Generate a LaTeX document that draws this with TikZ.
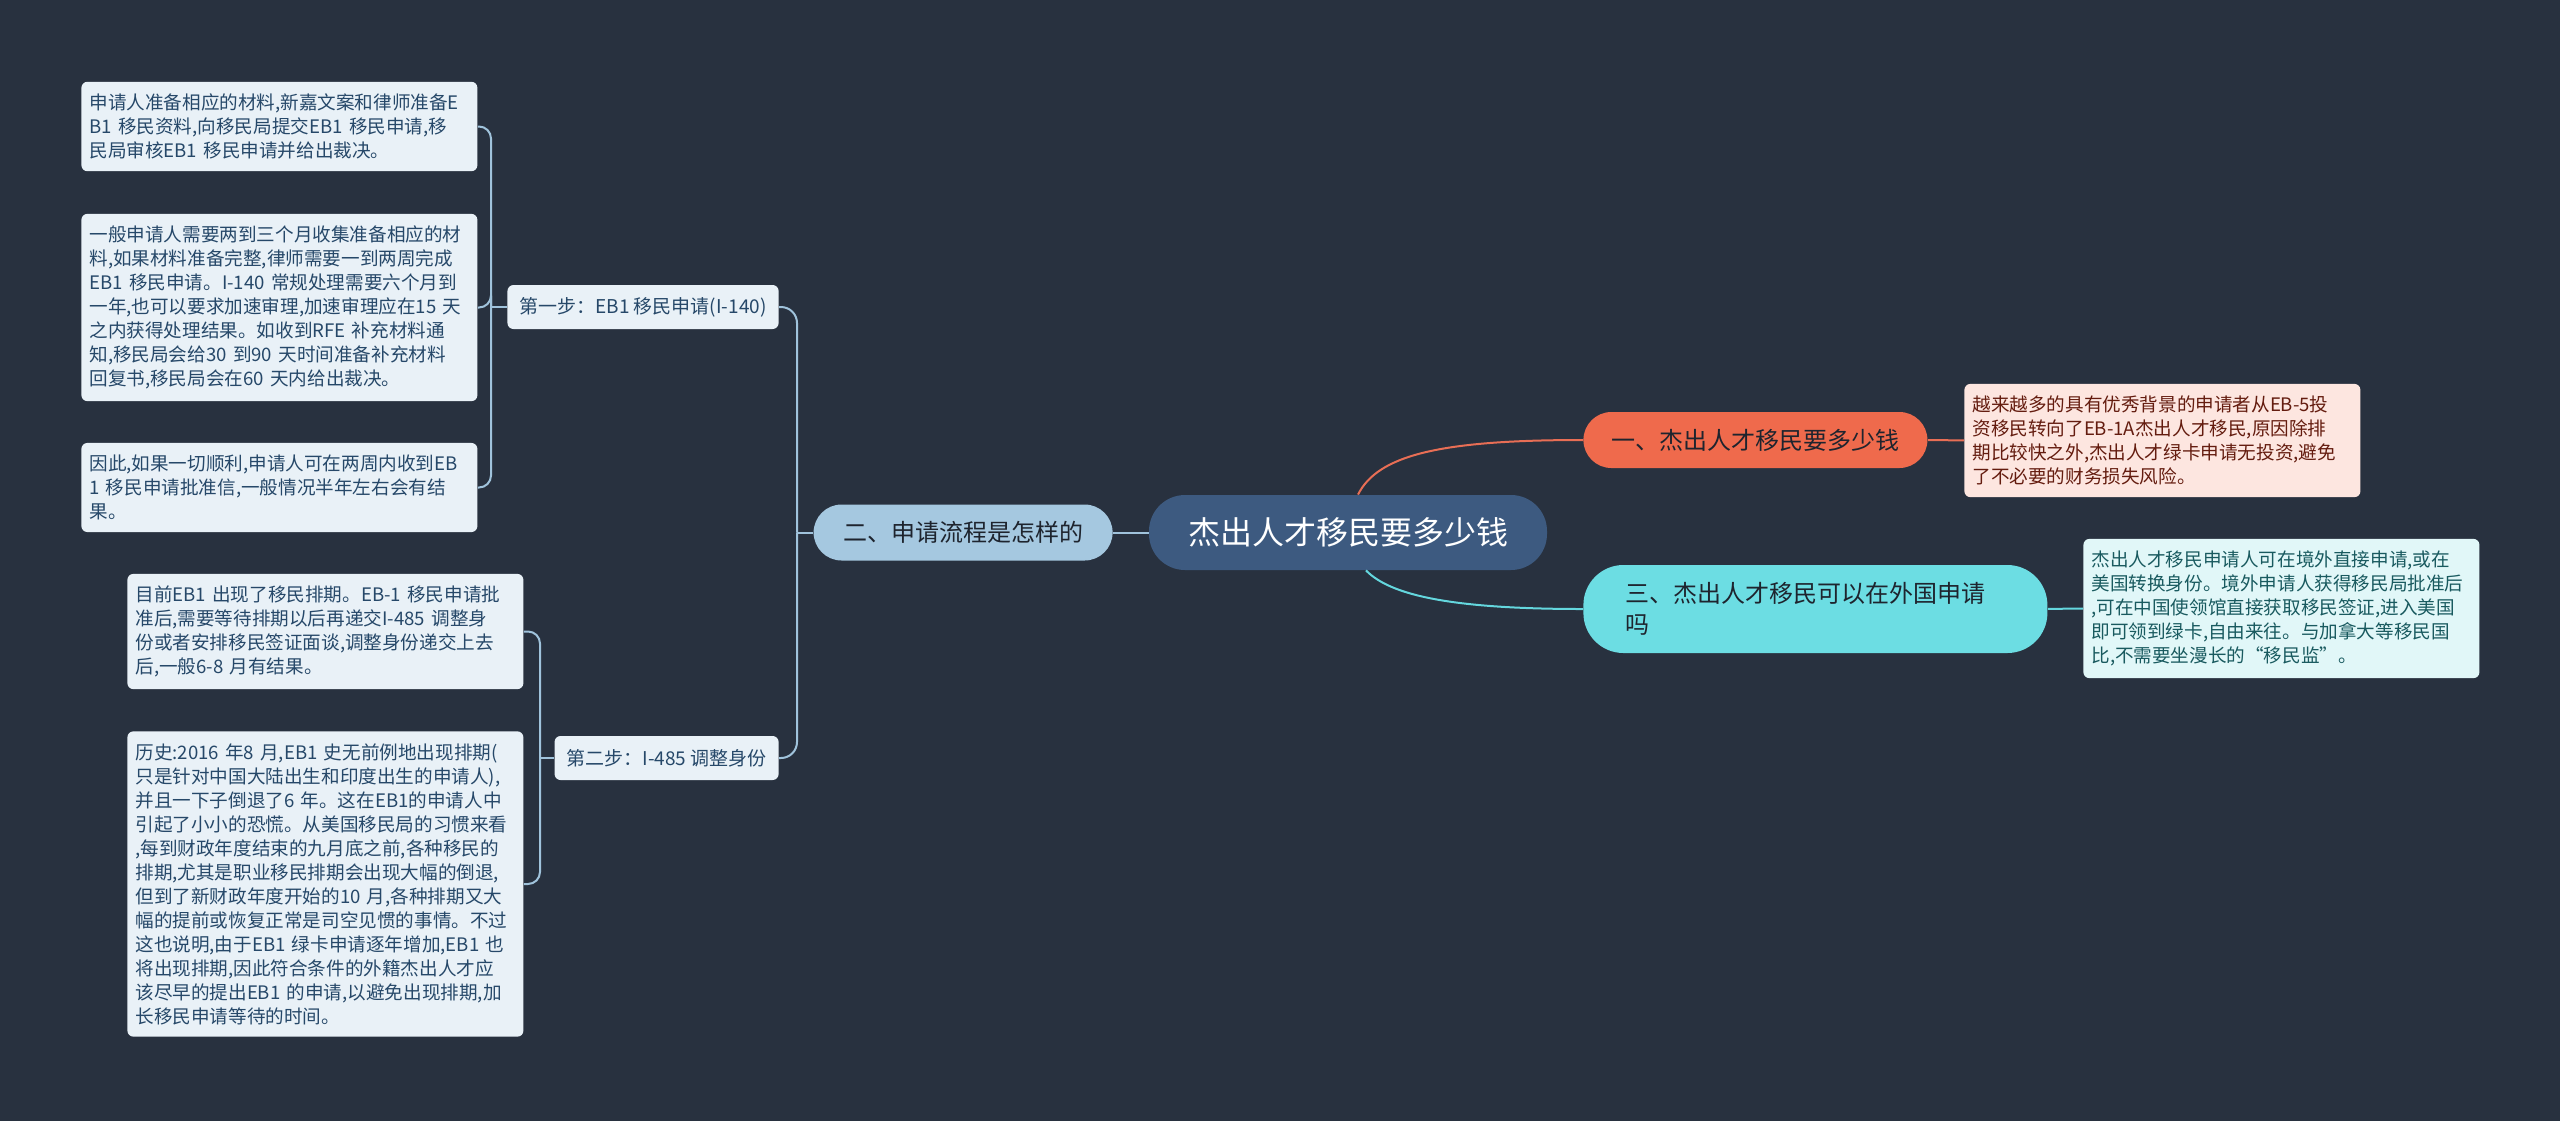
\documentclass[tikz,border=0pt]{standalone}
\usepackage{fontspec}
\setmainfont{Noto Sans CJK SC}
\usepackage{xcolor}
\definecolor{bgdark}{RGB}{40,49,63}
\definecolor{rootblue}{RGB}{61,90,128}
\definecolor{mycoral}{RGB}{239,106,76}
\definecolor{mycyan}{RGB}{108,221,227}
\definecolor{mylightblue}{RGB}{165,200,224}
\definecolor{topictext}{RGB}{30,36,46}
\definecolor{notefill}{RGB}{233,241,247}
\definecolor{notetext}{RGB}{38,72,105}
\definecolor{pinkfill}{RGB}{253,230,224}
\definecolor{pinktext}{RGB}{100,28,15}
\definecolor{cyanfill}{RGB}{225,247,248}
\definecolor{cyantext}{RGB}{25,90,95}
\definecolor{linkblue}{RGB}{160,195,220}
\definecolor{linkcoral}{RGB}{232,110,85}
\definecolor{linkcyan}{RGB}{100,215,222}
\usepackage{tikz}
\usetikzlibrary{calc}
\newcommand{\widthnote}{190pt}
\newcommand{\widthtopic}{190pt}
\tikzset{
    common/.style={rectangle, rounded corners=3pt, inner xsep=4pt, inner ysep=6pt},
    note/.style={common, anchor=west, fill=notefill, text=notetext, text width=\widthnote, align=left, font=\fontsize{9.3}{12}\selectfont},
    stepbox/.style={common, anchor=east, fill=notefill, text=notetext, inner xsep=6pt, minimum height=22pt, font=\fontsize{9.5}{12}\selectfont},
    topic/.style={rectangle, rounded corners=14pt, minimum height=28pt, inner xsep=13pt, text=topictext, font=\fontsize{12}{15.5}\selectfont},
    root/.style={topic, rounded corners=18pt, minimum height=37.5pt, minimum width=199pt, fill=rootblue, text=white, font=\fontsize{16}{20}\selectfont},
    branch/.style={line width=1pt},
    branch-blue/.style={branch, linkblue},
    branch-coral/.style={branch, linkcoral},
    branch-cyan/.style={branch, linkcyan}
}

\begin{document}
\begin{tikzpicture}[x=0.5pt, y=-0.5pt]
    \fill[bgdark] (0,0) rectangle (2560,1121);

    % centre and main topics
    \node[root] (root) at (1348,532.5) {杰出人才移民要多少钱};
    \node[topic, anchor=east, fill=mylightblue, minimum width=149.5pt] (two) at (1113,532.5) {二、申请流程是怎样的};
    \node[topic, anchor=west, fill=mycoral, minimum width=172pt] (one) at (1583,440) {一、杰出人才移民要多少钱};
    \node[topic, anchor=west, fill=mycyan, text width=\widthtopic, align=left, inner xsep=21pt, minimum height=44pt, rounded corners=20pt] (three) at (1583,609) {三、杰出人才移民可以在外国申请\\吗};

    % right notes
    \node[note, fill=pinkfill, text=pinktext] (d1) at (1964,440.5) {越来越多的具有优秀背景的申请者从EB-5投\\资移民转向了EB-1A杰出人才移民,原因除排\\期比较快之外,杰出人才绿卡申请无投资,避免\\了不必要的财务损失风险。};
    \node[note, fill=cyanfill, text=cyantext] (d3) at (2083,608.5) {杰出人才移民申请人可在境外直接申请,或在\\美国转换身份。境外申请人获得移民局批准后\\,可在中国使领馆直接获取移民签证,进入美国\\即可领到绿卡,自由来往。与加拿大等移民国\\比,不需要坐漫长的“移民监”。};

    % steps
    \path (779,307) node[stepbox] (s1) {第一步：EB1 移民申请(I-140)}
          ++(0,451) node[stepbox] (s2) {第二步：I-485 调整身份};

    % left notes
    \path (81,126.5) node[note] (s1a) {申请人准备相应的材料,新嘉文案和律师准备E\\B1 移民资料,向移民局提交EB1 移民申请,移\\民局审核EB1 移民申请并给出裁决。}
          ++(0,181) node[note] (s1b) {一般申请人需要两到三个月收集准备相应的材\\料,如果材料准备完整,律师需要一到两周完成\\EB1 移民申请。I-140 常规处理需要六个月到\\一年,也可以要求加速审理,加速审理应在15 天\\之内获得处理结果。如收到RFE 补充材料通\\知,移民局会给30 到90 天时间准备补充材料\\回复书,移民局会在60 天内给出裁决。}
          ++(0,180) node[note] (s1c) {因此,如果一切顺利,申请人可在两周内收到EB\\1 移民申请批准信,一般情况半年左右会有结\\果。};
    \path (127,631.5) node[note] (s2a) {目前EB1 出现了移民排期。EB-1 移民申请批\\准后,需要等待排期以后再递交I-485 调整身\\份或者安排移民签证面谈,调整身份递交上去\\后,一般6-8 月有结果。}
          ++(0,252.5) node[note] (s2b) {历史:2016 年8 月,EB1 史无前例地出现排期(\\只是针对中国大陆出生和印度出生的申请人),\\并且一下子倒退了6 年。这在EB1的申请人中\\引起了小小的恐慌。从美国移民局的习惯来看\\,每到财政年度结束的九月底之前,各种移民的\\排期,尤其是职业移民排期会出现大幅的倒退,\\但到了新财政年度开始的10 月,各种排期又大\\幅的提前或恢复正常是司空见惯的事情。不过\\这也说明,由于EB1 绿卡申请逐年增加,EB1 也\\将出现排期,因此符合条件的外籍杰出人才应\\该尽早的提出EB1 的申请,以避免出现排期,加\\长移民申请等待的时间。};

    % connectors
    \draw[branch-coral] ($(root.north)+(10,0)$) .. controls (1378,455) and (1440,440) .. (one.west);
    \draw[branch-cyan] ($(root.south)+(18,0)$) .. controls (1390,595) and (1450,609) .. (three.west);
    \draw[branch-blue] (root) -- (two);
    \draw[branch-coral] (one) -- (d1);
    \draw[branch-cyan] (three) -- (d3);

    \coordinate (j2) at (797,532.5);
    \coordinate (j1) at (491,307);
    \coordinate (j3) at (540,758);
    \draw[branch-blue] (two.west) -- (j2);
    \draw[branch-blue, rounded corners=8pt] (j2) |- (s1.east);
    \draw[branch-blue, rounded corners=8pt] (j2) |- (s2.east);
    \draw[branch-blue] (s1.west) -- (j1);
    \draw[branch-blue, rounded corners=6pt] (j1) |- (s1a.east);
    \draw[branch-blue, rounded corners=6pt] (j1) |- (s1b.east);
    \draw[branch-blue, rounded corners=6pt] (j1) |- (s1c.east);
    \draw[branch-blue] (s2.west) -- (j3);
    \draw[branch-blue, rounded corners=6pt] (j3) |- (s2a.east);
    \draw[branch-blue, rounded corners=6pt] (j3) |- (s2b.east);
\end{tikzpicture}
\end{document}
